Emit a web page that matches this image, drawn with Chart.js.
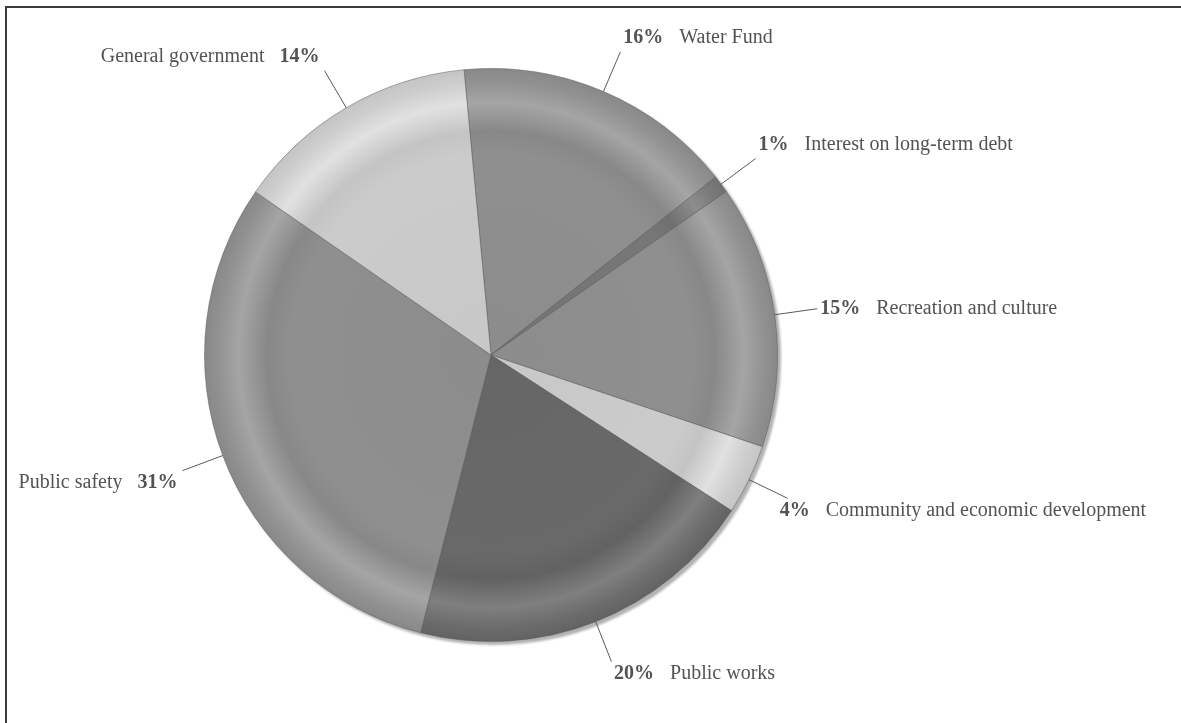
<!DOCTYPE html>
<html>
<head>
<meta charset="utf-8">
<script src="https://cdn.jsdelivr.net/npm/chart.js@4.4.1/dist/chart.umd.min.js"></script>
<style>
  html, body { margin: 0; padding: 0; background: #ffffff; }
  #wrap { position: relative; width: 1181px; height: 723px; overflow: hidden; }
  #frame { position: absolute; left: 5px; top: 6px; width: 1300px; height: 800px;
           border-top: 2px solid #3c3c3c; border-left: 2px solid #3c3c3c; pointer-events: none; }
  canvas { position: absolute; left: 0; top: 0; }
</style>
</head>
<body>
<div id="wrap">
  <canvas id="c" width="1181" height="723"></canvas>
  <div id="frame"></div>
</div>
<script>
// ---- data ----
const categories = [
  'Water Fund',
  'Interest on long-term debt',
  'Recreation and culture',
  'Community and economic development',
  'Public works',
  'Public safety',
  'General government'
];
const percentages = [16, 1, 15, 4, 20, 31, 14];
const baseColors = ['#8c8c8c', '#747474', '#8c8c8c', '#c8c8c8', '#666666', '#8c8c8c', '#c8c8c8'];

// ---- helpers ----
function adjust(hex, d) {
  const v = parseInt(hex.slice(1), 16);
  const c = [(v >> 16) & 255, (v >> 8) & 255, v & 255].map(x => Math.max(0, Math.min(255, x + d)));
  return 'rgb(' + c.join(',') + ')';
}
function geometry(chart) {
  const a = chart.chartArea;
  return { cx: (a.left + a.right) / 2, cy: (a.top + a.bottom) / 2,
           r: Math.min(a.right - a.left, a.bottom - a.top) / 2 };
}
function shaded(ctx) {
  const base = baseColors[ctx.dataIndex];
  const chart = ctx.chart;
  if (!chart.chartArea) return base;
  const g = geometry(chart);
  const grad = chart.ctx.createRadialGradient(g.cx, g.cy, 0, g.cx, g.cy, g.r);
  grad.addColorStop(0, base);
  grad.addColorStop(0.70, adjust(base, 3));
  grad.addColorStop(0.78, adjust(base, -4));
  grad.addColorStop(0.88, adjust(base, 25));
  grad.addColorStop(0.95, adjust(base, 6));
  grad.addColorStop(1, adjust(base, -4));
  return grad;
}

const shadowPlugin = {
  id: 'pieShadow',
  beforeDatasetsDraw(chart) {
    const g = geometry(chart);
    const c = chart.ctx;
    c.save();
    c.filter = 'blur(1px)';
    c.fillStyle = '#b2b2b2';
    c.beginPath();
    c.arc(g.cx + 3, g.cy + 3, g.r, 0, Math.PI * 2);
    c.fill();
    c.restore();
  }
};

const labelPlugin = {
  id: 'leaderLabels',
  afterDatasetsDraw(chart) {
    const c = chart.ctx;
    const meta = chart.getDatasetMeta(0);
    const normalFont = '20px "Liberation Serif", "Times New Roman", serif';
    const boldFont = 'bold 20px "Liberation Serif", "Times New Roman", serif';
    c.save();
    c.strokeStyle = '#5a5a5a';
    c.lineWidth = 1;
    c.fillStyle = '#555252';
    c.textBaseline = 'middle';
    meta.data.forEach((el, i) => {
      const p = el.getProps(['x', 'y', 'startAngle', 'endAngle', 'outerRadius'], true);
      const mid = (p.startAngle + p.endAngle) / 2;
      const cs = Math.cos(mid), sn = Math.sin(mid);
      const x0 = p.x + cs * p.outerRadius, y0 = p.y + sn * p.outerRadius;
      const x1 = p.x + cs * p.outerRadius * 1.15, y1 = p.y + sn * p.outerRadius * 1.15;
      c.beginPath();
      c.moveTo(x0, y0);
      c.lineTo(x1, y1);
      c.stroke();
      let dy = 0;
      if (sn < -0.3) dy = -14; else if (sn > 0.3) dy = 12;
      const ty = y1 + dy;
      const pct = percentages[i] + '%';
      const name = categories[i];
      if (cs >= 0) {
        const tx = sn > 0.3 ? x1 + 10 - 20 * cs : x1 + 3;
        c.textAlign = 'left';
        c.font = boldFont;
        c.fillText(pct, tx, ty);
        const w = c.measureText(pct).width;
        c.font = normalFont;
        c.fillText(name, tx + w + 16, ty);
      } else {
        const tx = x1 - 5;
        c.textAlign = 'right';
        c.font = boldFont;
        c.fillText(pct, tx, ty);
        const w = c.measureText(pct).width;
        c.font = normalFont;
        c.fillText(name, tx - w - 15, ty);
      }
    });
    c.restore();
  }
};

new Chart(document.getElementById('c'), {
  type: 'pie',
  data: {
    labels: categories,
    datasets: [{
      data: percentages,
      backgroundColor: shaded,
      borderColor: 'rgba(90,90,90,0.5)',
      borderWidth: 1
    }]
  },
  options: {
    responsive: false,
    animation: false,
    events: [],
    rotation: -5.4,
    layout: { padding: { top: 68, bottom: 81, left: 204, right: 403 } },
    plugins: {
      legend: { display: false },
      tooltip: { enabled: false }
    }
  },
  plugins: [shadowPlugin, labelPlugin]
});
</script>
</body>
</html>
